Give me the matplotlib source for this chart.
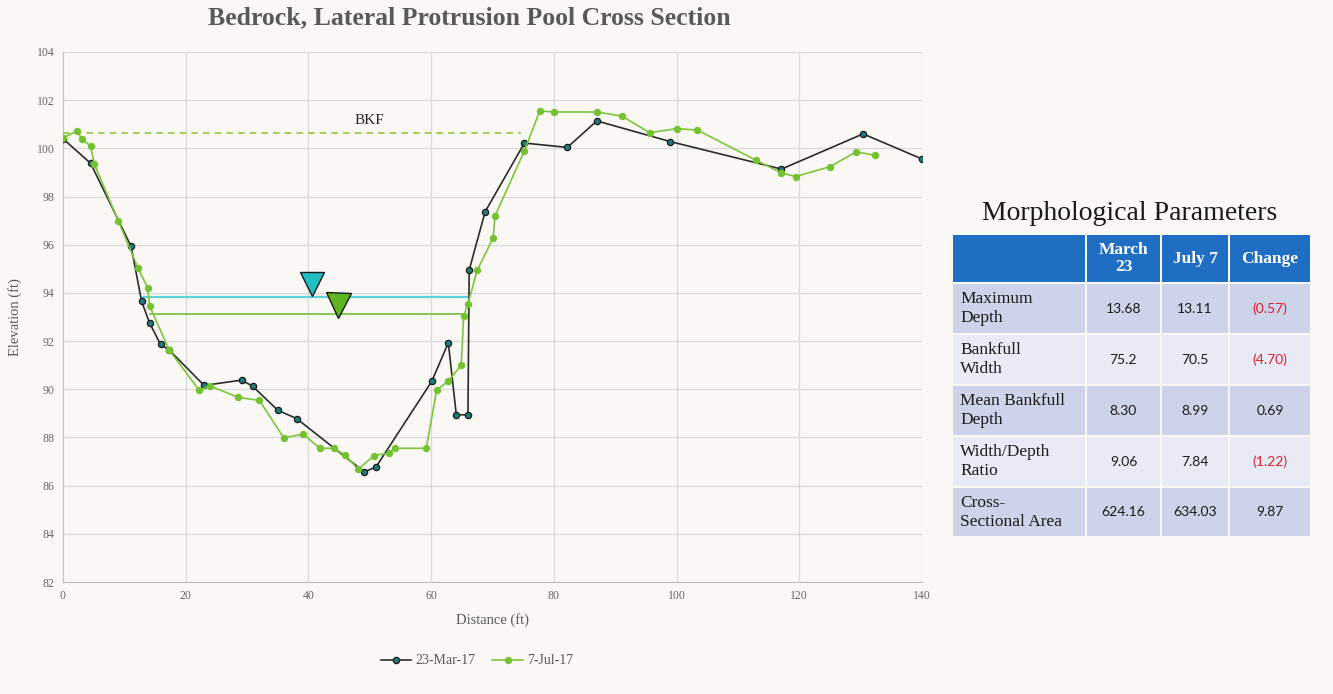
import matplotlib.pyplot as plt
from matplotlib.patches import Rectangle

# Perfil transversal, levantamiento del 23 de marzo
march_x = [0, 4.5, 11.1, 12.8, 14.1, 15.9, 17.3, 23.0, 29.1, 30.9,
           35.0, 38.1, 49.1, 51.0, 60.1, 62.8, 64.1, 66.0, 66.2, 68.8,
           75.2, 82.2, 87.0, 99.0, 117.1, 130.4, 140.0]
march_y = [100.4, 99.38, 95.93, 93.66, 92.76, 91.86, 91.63, 90.16, 90.38, 90.13,
           89.13, 88.78, 86.57, 86.77, 90.33, 91.93, 88.94, 88.94, 94.95, 97.37,
           100.22, 100.04, 101.14, 100.28, 99.14, 100.6, 99.56]

# Levantamiento del 7 de julio
july_x = [0, 2.3, 3.1, 4.5, 5.1, 9.0, 12.2, 13.8, 14.1, 17.3,
          22.2, 24.0, 28.6, 32.0, 36.0, 39.1, 41.9, 44.1, 46.0, 48.1,
          50.7, 53.1, 54.1, 59.2, 60.9, 62.8, 64.9, 65.3, 66.0, 67.5,
          70.1, 70.4, 75.2, 77.7, 80.1, 87.0, 91.1, 95.6, 100.1, 103.4,
          113.0, 117.0, 119.4, 125.0, 129.3, 132.3]
july_y = [100.44, 100.72, 100.38, 100.09, 99.35, 97.0, 95.05, 94.21, 93.47, 91.63,
          89.96, 90.13, 89.66, 89.54, 87.98, 88.14, 87.55, 87.55, 87.26, 86.68,
          87.25, 87.35, 87.55, 87.55, 89.97, 90.34, 91.0, 93.04, 93.54, 94.94,
          96.28, 97.19, 99.9, 101.55, 101.51, 101.51, 101.34, 100.65, 100.82, 100.76,
          99.5, 98.99, 98.83, 99.24, 99.86, 99.71]

# Niveles de agua y bankfull
march_wse_x = [13.0, 65.9]
march_wse_y = 93.84
july_wse_x = [14.1, 65.2]
july_wse_y = 93.12
bkf_x = [0, 74.6]
bkf_y = 100.65
march_tri = (40.6, 94.37)
july_tri = (44.8, 93.5)

# Tabla de parametros
table_cols = ["March\n23", "July 7", "Change"]
table_rows = ["Maximum\nDepth", "Bankfull\nWidth", "Mean Bankfull\nDepth",
              "Width/Depth\nRatio", "Cross-\nSectional Area"]
march_vals = ["13.68", "75.2", "8.30", "9.06", "624.16"]
july_vals = ["13.11", "70.5", "8.99", "7.84", "634.03"]
change_vals = ["(0.57)", "(4.70)", "0.69", "(1.22)", "9.87"]

bg = "#FAF8F4"
gray = "#595959"
serif = ["Liberation Serif", "DejaVu Serif"]

fig = plt.figure(figsize=(13.33, 6.94), dpi=100, facecolor=bg)
ax = fig.add_axes([63 / 1333, 1 - 582 / 694, (922 - 63) / 1333, (582 - 52) / 694])
ax.set_facecolor(bg)

ax.plot(march_x, march_y, color="#2B2B2B", lw=1.2, marker="o", ms=4.5,
        mfc="#1E7B78", mec="#1A1A1A", mew=0.9, label="23-Mar-17", zorder=4)
ax.plot(july_x, july_y, color="#7CC63A", lw=1.2, marker="o", ms=4.3,
        mfc="#74C232", mec="#74C232", label="7-Jul-17", zorder=5)

ax.plot(march_wse_x, [march_wse_y] * 2, color="#5ED3DA", lw=1.6, zorder=3)
ax.plot(july_wse_x, [july_wse_y] * 2, color="#79C448", lw=1.3, zorder=3)
ax.plot(bkf_x, [bkf_y] * 2, color="#8CCB3E", lw=1.2, ls=(0, (4, 3)), zorder=3)
ax.plot(*march_tri, marker="v", ms=17, mfc="#20BFC2", mec="#1A1A1A", mew=1.0, zorder=6)
ax.plot(*july_tri, marker="v", ms=18, mfc="#5DB51F", mec="#1A1A1A", mew=1.0, zorder=6)
ax.text(50.0, 101.15, "BKF", fontsize=11, family=serif, color="#262626",
        ha="center", va="center")

ax.set_xlim(0, 140)
ax.set_ylim(82, 104)
ax.set_xticks(range(0, 141, 20))
ax.set_yticks(range(82, 105, 2))
ax.grid(color="#D9D9D9", lw=0.9)
ax.set_axisbelow(True)
for s in ["top", "right"]:
    ax.spines[s].set_visible(False)
for s in ["left", "bottom"]:
    ax.spines[s].set_color("#BFBFBF")
ax.tick_params(length=0, labelsize=8.5, labelcolor="#666666", pad=6)
for lab in ax.get_xticklabels() + ax.get_yticklabels():
    lab.set_family(serif)
ax.set_xlabel("Distance (ft)", fontsize=10.5, family=serif, color=gray, labelpad=8)
ax.set_ylabel("Elevation (ft)", fontsize=10.5, family=serif, color=gray, labelpad=11)

fig.text(469 / 1333, 1 - 18 / 694, "Bedrock, Lateral Protrusion Pool Cross Section",
         fontsize=18.5, fontweight="bold", family=serif, color=gray,
         ha="center", va="center")

leg = fig.legend(loc="center", bbox_to_anchor=(477 / 1333, 1 - 661 / 694), ncol=2,
                 frameon=False, prop={"family": serif, "size": 10},
                 handlelength=2.2, columnspacing=1.2, handletextpad=0.3)
for t in leg.get_texts():
    t.set_color(gray)

# Tabla dibujada en un eje en coordenadas de pixel
tax = fig.add_axes([0, 0, 1, 1])
tax.set_xlim(0, 1333)
tax.set_ylim(694, 0)
tax.axis("off")

col_edges = [952, 1086, 1161, 1229, 1311]
row_edges = [234, 283, 334, 385, 436, 487, 537]
gap = 1.2
for c in range(4):
    x0, x1 = col_edges[c], col_edges[c + 1]
    for r in range(6):
        y0, y1 = row_edges[r], row_edges[r + 1]
        if r == 0:
            color = "#1F6EC4"
        elif r % 2 == 1:
            color = "#CDD4E9"
        else:
            color = "#E8EBF5"
        tax.add_patch(Rectangle((x0 + gap, y0 + gap), x1 - x0 - 2 * gap, y1 - y0 - 2 * gap,
                                facecolor=color, edgecolor="none"))

tax.text(1130, 213, "Morphological Parameters", fontsize=20, family=serif,
         color="#1A1A1A", ha="center", va="center")

for c, name in enumerate(table_cols):
    xc = (col_edges[c + 1] + col_edges[c + 2]) / 2
    tax.text(xc, (row_edges[0] + row_edges[1]) / 2, name, fontsize=12.5,
             fontweight="bold", family=serif, color="white", ha="center",
             va="center", linespacing=1.15)

for r in range(5):
    yc = (row_edges[r + 1] + row_edges[r + 2]) / 2
    tax.text(960, yc, table_rows[r], fontsize=12.5, family=serif, color="#1A1A1A",
             ha="left", va="center", linespacing=1.25)
    vals = [march_vals[r], july_vals[r], change_vals[r]]
    for c, v in enumerate(vals):
        xc = (col_edges[c + 1] + col_edges[c + 2]) / 2
        color = "#E0202A" if v.startswith("(") else "#1A1A1A"
        tax.text(xc, yc, v, fontsize=10, family=["Lato", "DejaVu Sans"],
                 color=color, ha="center", va="center")

fig.savefig("out.png", dpi=100, facecolor=bg)
